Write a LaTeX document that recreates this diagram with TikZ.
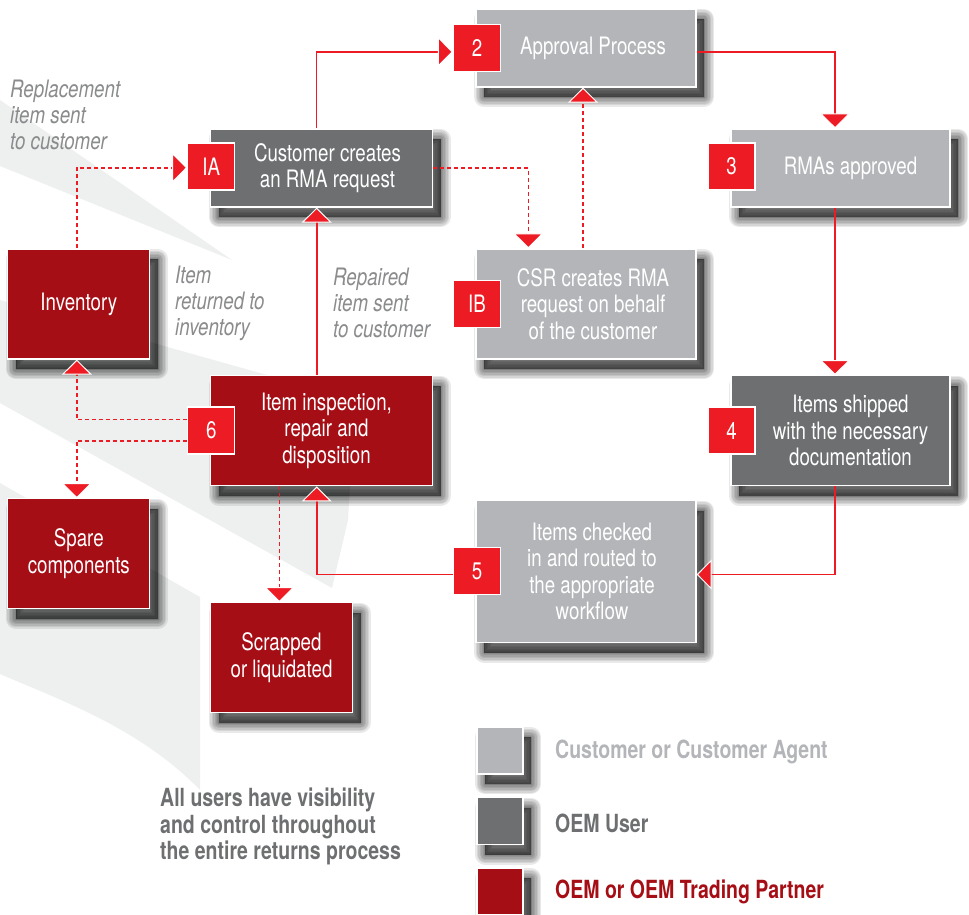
\documentclass[tikz,border=0pt]{standalone}
\usepackage{fontspec}
\setmainfont{TeX Gyre Heros}[FakeStretch=0.78]
\usetikzlibrary{arrows.meta,calc}
\definecolor{lbox}{RGB}{179,181,184}
\definecolor{dbox}{RGB}{109,111,113}
\definecolor{rbox}{RGB}{166,14,22}
\definecolor{bred}{RGB}{237,28,36}
\definecolor{lblgray}{RGB}{138,139,141}
\definecolor{bggray}{RGB}{238,239,239}
\begin{document}
\begin{tikzpicture}[x=1pt,y=-1pt,
  shl/.style={preaction={draw=black, fill=black, opacity=0.085, line width=#1, line join=round,
    transform canvas={shift={(8pt,-10pt)}}}},
  boxbase/.style={rectangle, draw=white, line width=1.2pt, inner sep=0pt,
    shl=20pt, shl=17pt, shl=14pt, shl=11pt, shl=8pt, shl=5pt, shl=2.5pt, shl=0.1pt},
  lightbox/.style={boxbase, fill=lbox},
  darkbox/.style={boxbase, fill=dbox},
  redbox/.style={boxbase, fill=rbox},
  btxt/.style={text=white, align=center, inner sep=0pt, font=\fontsize{24}{26.5}\selectfont},
  badge/.style={rectangle, fill=bred, draw=white, line width=1.2pt, minimum width=47pt,
    minimum height=47pt, inner sep=0pt, text=white, font=\fontsize{24}{26}\selectfont},
  itlbl/.style={text=lblgray, align=left, inner sep=0pt, anchor=west,
    font=\fontsize{24}{26}\selectfont\itshape},
  legtxt/.style={inner sep=0pt, anchor=west, font=\fontsize{25}{26.5}\selectfont\bfseries},
  conn/.style={draw=bred, line width=1.6pt,
    -{Triangle[width=30pt,length=15pt,color=white,fill=bred,line width=1pt]}},
  dconn/.style={conn, dash pattern=on 4pt off 3pt}
]
\useasboundingbox (0,0) rectangle (969,915);
% background swooshes
\fill[bggray] (0,100) -- (232,260) -- (0,166) -- cycle;
\fill[bggray] (0,300) -- (285,380) -- (355,398) -- (348,520) -- (332,588) -- (0,403) -- cycle;
\fill[bggray] (0,483) -- (200,597) -- (200,790) .. controls (140,728) and (60,700) .. (0,674) -- cycle;

% boxes
\node[lightbox, minimum width=220pt, minimum height=78pt] (app) at (586,48) {};
\node[darkbox, minimum width=222pt, minimum height=78pt] (cust) at (321.5,168) {};
\node[lightbox, minimum width=219pt, minimum height=78pt] (rma) at (840.5,168) {};
\node[lightbox, minimum width=220pt, minimum height=110pt] (csr) at (586,304) {};
\node[redbox, minimum width=142pt, minimum height=110pt] (inv) at (78.8,304) {};
\node[darkbox, minimum width=219pt, minimum height=110pt] (ship) at (840.5,430.7) {};
\node[redbox, minimum width=222pt, minimum height=110pt] (insp) at (321.5,430.8) {};
\node[lightbox, minimum width=220pt, minimum height=142pt] (chk) at (586,571.5) {};
\node[redbox, minimum width=142pt, minimum height=110pt] (spare) at (78.8,553.8) {};
\node[redbox, minimum width=142pt, minimum height=110pt] (scrap) at (281.5,657.7) {};

% legend squares
\node[lightbox, minimum width=46pt, minimum height=47pt] (lg1) at (500,750.5) {};
\node[darkbox, minimum width=46pt, minimum height=47pt] (lg2) at (500,821) {};
\node[redbox, minimum width=46pt, minimum height=47pt] (lg3) at (500,891.5) {};

% badges
\node[badge] (b2) at (477,47.8) {2};
\node[badge] (bIA) at (211.3,166.5) {IA};
\node[badge] (b3) at (731.5,166.5) {3};
\node[badge] (bIB) at (477,304) {IB};
\node[badge] (b4) at (731.5,430.5) {4};
\node[badge] (b6) at (211.3,430.5) {6};
\node[badge] (b5) at (477,571.2) {5};

% box texts
\node[btxt] (tapp) at ([xshift=7pt]app.center) {Approval Process};
\node[btxt] (tcust) at ([xshift=6pt]cust.center) {Customer creates\\an RMA request};
\node[btxt] (trma) at ([xshift=10pt]rma.center) {RMAs approved};
\node[btxt] (tcsr) at ([xshift=7pt]csr.center) {CSR creates RMA\\request on behalf\\of the customer};
\node[btxt] (tinv) at (inv.center) {Inventory};
\node[btxt] (tship) at ([xshift=10pt]ship.center) {Items shipped\\with the necessary\\documentation};
\node[btxt] (tinsp) at ([xshift=5pt]insp.center) {Item inspection,\\repair and\\disposition};
\node[btxt] (tchk) at ([xshift=6pt]chk.center) {Items checked\\in and routed to\\the appropriate\\workflow};
\node[btxt] (tspare) at (spare.center) {Spare\\components};
\node[btxt] (tscrap) at (scrap.center) {Scrapped\\or liquidated};

% italic labels
\node[itlbl] (l1) at (10,115) {Replacement\\item sent\\to customer};
\node[itlbl] (l2) at (175,303) {Item\\returned to\\inventory};
\node[itlbl] (l3) at (333,303) {Repaired\\item sent\\to customer};

% notes and legend text
\node[legtxt, text=dbox, align=left] (note) at (160,826.5) {All users have visibility\\and control throughout\\the entire returns process};
\node[legtxt, text=lbox] (lt1) at (555,752) {Customer or Customer Agent};
\node[legtxt, text=dbox] (lt2) at (555,823) {OEM User};
\node[legtxt, text=rbox] (lt3) at (555,892) {OEM or OEM Trading Partner};

% solid connectors
\draw[conn] ([xshift=-5pt]cust.north) |- ([yshift=-4pt]b2.west);
\draw[conn] ([yshift=-4pt]app.east) -| ([xshift=-5.5pt]rma.north);
\draw[conn] ([xshift=-5.5pt]rma.south) -- ([xshift=-5.5pt]ship.north);
\draw[conn] ([xshift=-5.5pt]ship.south) |- ([yshift=-3pt]chk.east);
\draw[conn] ([yshift=-3.2pt]b5.west) -| ([xshift=-4.8pt]insp.south);
\draw[conn] ([xshift=-4.8pt]insp.north) -- ([xshift=-4.8pt]cust.south);

% dashed connectors
\draw[dconn] (cust.east) -| ([xshift=-57.7pt]csr.north);
\draw[dconn] ([xshift=-3pt]csr.north) -- ([xshift=-3pt]app.south);
\draw[dconn] ([xshift=-2pt]inv.north) |- ([yshift=-1.2pt]bIA.west);
\draw[dconn] ([yshift=11.2pt]b6.west) -| ([xshift=-2pt]inv.south);
\draw[dconn] ([yshift=-10.2pt]b6.west) -| ([xshift=-2pt]spare.north);
\draw[dconn] ([xshift=-42.2pt]insp.south) -- ([xshift=-2.2pt]scrap.north);
\end{tikzpicture}
\end{document}
